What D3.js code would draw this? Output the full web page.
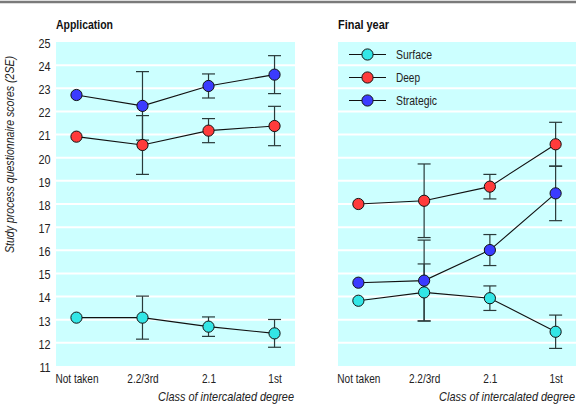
<!DOCTYPE html>
<html><head><meta charset="utf-8">
<script src="https://cdn.jsdelivr.net/npm/d3@7"></script>
<style>
body{margin:0;background:#fff;}
text{font-family:"Liberation Sans",Arial,sans-serif;}
</style></head>
<body><svg id="c" width="580" height="408"></svg>
<script>
const categories = ["Not taken","2.2/3rd","2.1","1st"];
const yTicks = [11,12,13,14,15,16,17,18,19,20,21,22,23,24,25];
const seriesNames = ["Surface","Deep","Strategic"];
const seriesColors = ["#33e6e6","#ff3b3b","#3b3bff"];
// Application panel: means and 2SE half-widths (null = no bar shown)
const appSurface = [13.09, 13.09, 12.70, 12.41];
const appSurfaceErr = [null, 0.93, 0.42, 0.60];
const appDeep = [20.91, 20.55, 21.17, 21.37];
const appDeepErr = [null, 1.27, 0.52, 0.85];
const appStrategic = [22.71, 22.24, 23.10, 23.59];
const appStrategicErr = [null, 1.48, 0.52, 0.82];
// Final year panel
const finSurface = [13.82, 14.18, 13.93, 12.48];
const finSurfaceErr = [null, 1.23, 0.53, 0.72];
const finDeep = [18.00, 18.14, 18.75, 20.58];
const finDeepErr = [null, 1.59, 0.53, 0.95];
const finStrategic = [14.60, 14.69, 16.01, 18.46];
const finStrategicErr = [null, 1.75, 0.67, 1.18];

const svg = d3.select("#c");
svg.append("line").attr("x1",0).attr("x2",576).attr("y1",2).attr("y2",2)
  .attr("stroke","#7a7a7a").attr("stroke-width",2.5);

const y = d3.scaleLinear().domain([11,25]).range([366,42]);
const fit = (sel,w) => sel.attr("textLength",w).attr("lengthAdjust","spacingAndGlyphs");

const panels = [
  {title:"Application", tw:57, x0:56, x1:295, showY:true,
   data:[[appSurface,appSurfaceErr],[appDeep,appDeepErr],[appStrategic,appStrategicErr]], legend:false},
  {title:"Final year", tw:51, x0:338, x1:576, showY:false,
   data:[[finSurface,finSurfaceErr],[finDeep,finDeepErr],[finStrategic,finStrategicErr]], legend:true}
];
const legendW = [36,24,41];

panels.forEach(p => {
  const x = d3.scalePoint().domain(categories).range([p.x0,p.x1]).padding(0.31);
  const g = svg.append("g");
  g.append("rect").attr("x",p.x0).attr("y",y(25)).attr("width",p.x1-p.x0).attr("height",y(11)-y(25))
    .attr("fill","#ccffff");
  g.selectAll(".grid").data(yTicks.filter(t=>t>11 && t<25)).join("line")
    .attr("x1",p.x0).attr("x2",p.x1).attr("y1",d=>y(d)).attr("y2",d=>y(d))
    .attr("stroke","#fff").attr("stroke-width",2);
  fit(g.append("text").attr("x",p.x0).attr("y",29).attr("font-size",12.5).attr("font-weight","bold")
    .attr("fill","#111").text(p.title), p.tw);
  if (p.showY) {
    const ax = d3.axisLeft(y).tickValues(yTicks).tickSize(0).tickPadding(6);
    const ag = g.append("g").attr("transform",`translate(${p.x0},0)`).call(ax);
    ag.select(".domain").remove();
    ag.selectAll("text").attr("font-size",12).attr("fill","#222").attr("dy","0.45em")
      .attr("transform","scale(0.9,1)");
  }
  const xa = d3.axisBottom(x).tickSize(0).tickPadding(8);
  const xg = g.append("g").attr("transform",`translate(0,${y(11)})`).call(xa);
  xg.select(".domain").remove();
  xg.selectAll("text").attr("font-size",12).attr("fill","#222").attr("transform","scale(0.84,1)");
  g.append("text").attr("transform",`translate(${p.x1-1},401) scale(0.91,1)`).attr("text-anchor","end")
    .attr("font-size",12).attr("font-style","italic").attr("fill","#222").text("Class of intercalated degree");

  const line = d3.line().x((d,i)=>x(categories[i])).y(d=>y(d));
  p.data.forEach(([vals,errs]) => {
    vals.forEach((v,i) => {
      const e = errs[i]; if (e==null) return;
      const cx = x(categories[i]);
      g.append("line").attr("x1",cx).attr("x2",cx).attr("y1",y(v+e)).attr("y2",y(v-e))
        .attr("stroke","#2a3a3a").attr("stroke-width",1.2);
      [v+e,v-e].forEach(t => g.append("line").attr("x1",cx-6.5).attr("x2",cx+6.5)
        .attr("y1",y(t)).attr("y2",y(t)).attr("stroke","#2a3a3a").attr("stroke-width",1.2));
    });
  });
  p.data.forEach(([vals]) => {
    g.append("path").attr("d",line(vals)).attr("fill","none").attr("stroke","#111").attr("stroke-width",1.1);
  });
  p.data.forEach(([vals],si) => {
    g.selectAll(null).data(vals).join("circle")
      .attr("cx",(d,i)=>x(categories[i])).attr("cy",d=>y(d)).attr("r",5.6)
      .attr("fill",seriesColors[si]).attr("stroke","#111").attr("stroke-width",1);
  });
  if (p.legend) {
    seriesNames.forEach((n,i) => {
      const ly = 54.5 + i*23;
      g.append("line").attr("x1",349).attr("x2",386).attr("y1",ly).attr("y2",ly)
        .attr("stroke","#111").attr("stroke-width",1.1);
      g.append("circle").attr("cx",367.5).attr("cy",ly).attr("r",5.6)
        .attr("fill",seriesColors[i]).attr("stroke","#111").attr("stroke-width",1);
      fit(g.append("text").attr("x",396).attr("y",ly).attr("dy","0.36em").attr("font-size",12)
        .attr("fill","#222").text(n), legendW[i]);
    });
  }
});

fit(svg.append("text").attr("transform","translate(14,253) rotate(-90)")
  .attr("font-size",12).attr("font-style","italic").attr("fill","#222")
  .text("Study process questionnaire scores (2SE)"), 197);
</script></body></html>
